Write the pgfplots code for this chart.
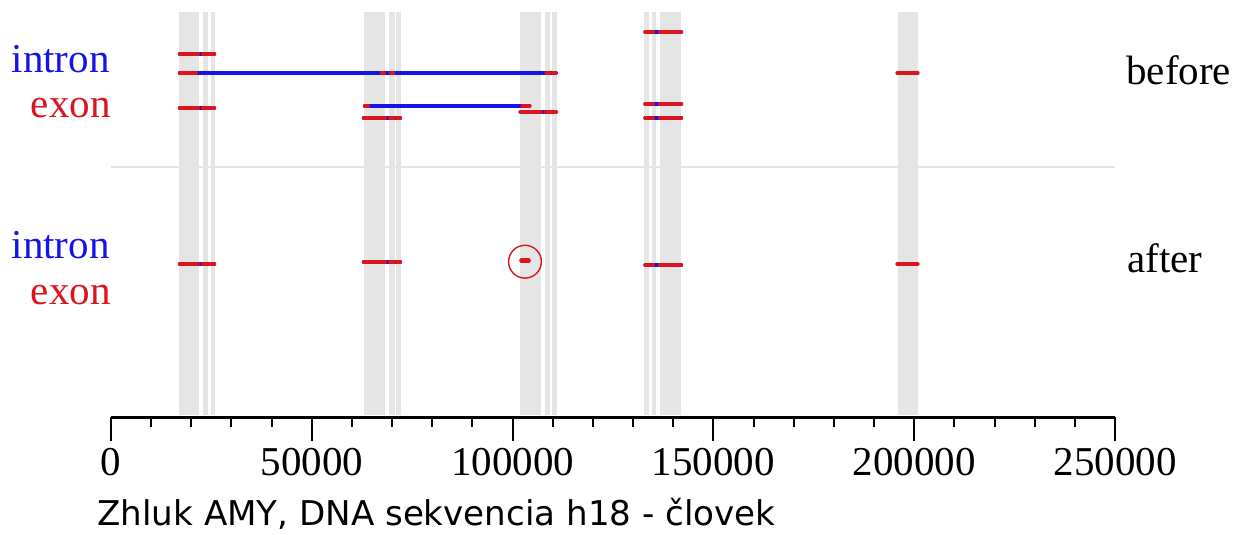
\documentclass[border=0pt]{standalone}
\usepackage{fontspec}
\setmainfont{Liberation Serif}
\newfontfamily\dejavu{DejaVu Sans}
\usepackage{pgfplots}
\pgfplotsset{compat=1.18}
\definecolor{band}{RGB}{229,229,229}
\definecolor{ired}{RGB}{220,20,30}
\definecolor{iblue}{RGB}{20,20,230}
\newcommand{\seg}[4]{\addplot[#1] coordinates {(#2,#4) (#3,#4)};}
\newcommand{\band}[2]{\addplot[fill=band, draw=none] coordinates {(#1,12) (#2,12) (#2,415) (#1,415)} -- cycle;}
\begin{document}
\begin{tikzpicture}
\path[use as bounding box] (-55.5pt,-59pt) rectangle (562.5pt,208.5pt);
\begin{axis}[
  scale only axis,
  width=502pt, height=202.5pt,
  xmin=0, xmax=250000,
  ymin=12, ymax=417, y dir=reverse,
  axis x line*=bottom,
  axis y line=none,
  axis line style={line width=1.5pt, -},
  xtick={0,50000,...,250000},
  minor x tick num=4,
  tick align=outside,
  major tick length=12pt,
  minor tick length=5pt,
  every tick/.style={black, line width=1pt},
  scaled x ticks=false,
  xticklabel style={font=\fontsize{20.5}{24}\selectfont, /pgf/number format/assume math mode=true},
  /pgf/number format/.cd, fixed, 1000 sep={},
  /pgfplots/.cd,
  clip=false,
]
% exon bands
\band{16932}{21912}
\band{22908}{24153}
\band{24900}{25896}
\band{62997}{68226}
\band{69222}{70716}
\band{70965}{72210}
\band{101841}{107070}
\band{108066}{109311}
\band{109809}{111054}
\band{132717}{133962}
\band{134709}{135705}
\band{136701}{141930}
\band{195963}{200943}
% separator
\addplot[band, line width=1.2pt] coordinates {(0,167) (250000,167)};
\tikzset{iseg/.style={iblue, line width=2.2pt, line cap=round}, eseg/.style={ired, line width=2.2pt, line cap=round}}
% ---- before ----
% row 32: group 4
\seg{iseg}{133090}{141930}{32}
\seg{eseg}{133090}{133962}{32}
\seg{eseg}{134460}{134958}{32}
\seg{eseg}{136701}{141930}{32}
% row 54: group 1
\seg{iseg}{17181}{25647}{54}
\seg{eseg}{17181}{21663}{54}
\seg{eseg}{22908}{23904}{54}
\seg{eseg}{24402}{25647}{54}
% row 73: long
\seg{iseg}{17181}{110730}{73}
\seg{eseg}{17181}{21165}{73}
\seg{eseg}{67479}{67977}{73}
\seg{eseg}{69720}{70218}{73}
\seg{eseg}{108489}{109311}{73}
\seg{eseg}{109983}{110730}{73}
\seg{eseg}{195838}{200818}{73}
% row 104: group 4
\seg{iseg}{133090}{141930}{104}
\seg{eseg}{133090}{133962}{104}
\seg{eseg}{134460}{134958}{104}
\seg{eseg}{136701}{141930}{104}
% row 106: group 2 to 3
\seg{iseg}{63246}{104157}{106}
\seg{eseg}{63246}{63993}{106}
\seg{eseg}{102464}{104157}{106}
% row 108: group 1
\seg{iseg}{17181}{25647}{108}
\seg{eseg}{17181}{21663}{108}
\seg{eseg}{22908}{23904}{108}
\seg{eseg}{24402}{25647}{108}
% row 112: group 3
\seg{iseg}{102015}{110730}{112}
\seg{eseg}{102015}{107070}{112}
\seg{eseg}{108315}{109062}{112}
\seg{eseg}{109560}{110730}{112}
% row 118: group 2 and 4
\seg{iseg}{62997}{71961}{118}
\seg{eseg}{62997}{68226}{118}
\seg{eseg}{69471}{70467}{118}
\seg{eseg}{71214}{71961}{118}
\seg{iseg}{133090}{141930}{118}
\seg{eseg}{133090}{133962}{118}
\seg{eseg}{134460}{134958}{118}
\seg{eseg}{136701}{141930}{118}
% ---- after ----
\seg{iseg}{17181}{25647}{264}
\seg{eseg}{17181}{21663}{264}
\seg{eseg}{22908}{23904}{264}
\seg{eseg}{24402}{25647}{264}
\seg{iseg}{62997}{71961}{262}
\seg{eseg}{62997}{68226}{262}
\seg{eseg}{69471}{70467}{262}
\seg{eseg}{71214}{71961}{262}
\seg{eseg}{102200}{104000}{260.5}
\seg{iseg}{133090}{141930}{265}
\seg{eseg}{133090}{133962}{265}
\seg{eseg}{134460}{134958}{265}
\seg{eseg}{136701}{141930}{265}
\seg{eseg}{195838}{200818}{264}
% highlight circle
\addplot[only marks, mark=o, mark size=8.2pt, ired, mark options={line width=0.7pt}] coordinates {(103086,261.7)};
\end{axis}
\begin{scope}[shift={(-55.5pt,208.5pt)}, x=0.5pt, y=-0.5pt]
\node[anchor=base east, inner sep=0pt, text=iblue, font=\fontsize{20.5}{24}\selectfont] at (110,73) {intron};
\node[anchor=base east, inner sep=0pt, text=ired, font=\fontsize{20.5}{24}\selectfont] at (111,118) {exon};
\node[anchor=base east, inner sep=0pt, text=iblue, font=\fontsize{20.5}{24}\selectfont] at (110,259) {intron};
\node[anchor=base east, inner sep=0pt, text=ired, font=\fontsize{20.5}{24}\selectfont] at (111,305) {exon};
\node[anchor=base west, inner sep=0pt, font=\fontsize{20.5}{24}\selectfont] at (1126,85) {before};
\node[anchor=base west, inner sep=0pt, font=\fontsize{20.5}{24}\selectfont] at (1127,273) {after};
\node[anchor=base west, inner sep=0pt, font=\dejavu\fontsize{17.05}{20}\selectfont] at (97,525) {Zhluk AMY, DNA sekvencia h18 - človek};
\end{scope}
\end{tikzpicture}
\end{document}
